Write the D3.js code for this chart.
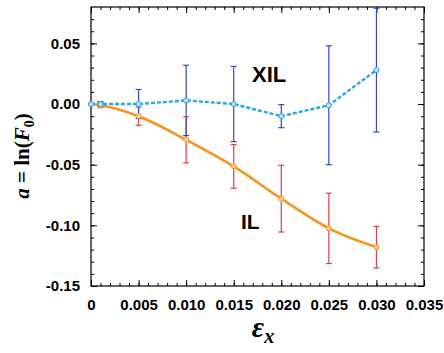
<!DOCTYPE html>
<html>
<head>
<meta charset="utf-8">
<script src="https://cdn.jsdelivr.net/npm/d3@7"></script>
<style>
  html, body { margin: 0; padding: 0; background: #fff; }
  svg { display: block; }
</style>
</head>
<body>
<div id="vis"></div>
<script>
// data
const strain = [0, 0.001, 0.005, 0.010, 0.015, 0.020, 0.025, 0.030];
const xil    = [0, 0, 0, 0.003, 0, -0.010, -0.001, 0.028];
const xilErr = [0, 0.002, 0.012, 0.029, 0.031, 0.0095, 0.049, 0.051];
const il     = [0, -0.001, -0.010, -0.0295, -0.0514, -0.078, -0.1025, -0.118];
const ilErr  = [0, 0.002, 0.0075, 0.019, 0.018, 0.0275, 0.029, 0.017];
const xTicks = [0, 0.005, 0.010, 0.015, 0.020, 0.025, 0.030, 0.035];
const yTicks = [-0.15, -0.10, -0.05, 0.00, 0.05];

const W = 444, H = 353;
const L = 91, R = 424, T = 7, B = 286;

const x = d3.scaleLinear().domain([0, 0.035]).range([L, R]);
const y = d3.scaleLinear().domain([-0.15, 0.08]).range([B, T]);

const svg = d3.select("#vis").append("svg")
  .attr("width", W).attr("height", H);

const labelFont = "Liberation Sans, Arial, sans-serif";

// minor ticks
const xMinor = d3.range(0, 36).map(i => i * 0.001);
const yMinor = d3.range(-15, 8).map(i => i * 0.01);

function styleAxis(g) {
  g.select(".domain").remove();
  g.selectAll("line").attr("stroke", "#000").attr("stroke-width", 1);
  g.selectAll("text")
    .attr("font-family", labelFont)
    .attr("font-weight", "bold")
    .attr("font-size", 15)
    .attr("fill", "#000");
}

// bottom
svg.append("g").attr("transform", `translate(0,${B})`)
  .call(d3.axisBottom(x).tickValues(xMinor).tickSize(-3).tickFormat(""))
  .call(styleAxis);
svg.append("g").attr("transform", `translate(0,${B})`)
  .call(d3.axisBottom(x).tickValues(xTicks).tickSize(-6).tickPadding(13)
    .tickFormat(d => d === 0 ? "0" : d3.format(".3f")(d)))
  .call(styleAxis);
// top
svg.append("g").attr("transform", `translate(0,${T})`)
  .call(d3.axisTop(x).tickValues(xMinor).tickSize(-3).tickFormat(""))
  .call(styleAxis);
svg.append("g").attr("transform", `translate(0,${T})`)
  .call(d3.axisTop(x).tickValues(xTicks).tickSize(-6).tickFormat(""))
  .call(styleAxis);
// left
svg.append("g").attr("transform", `translate(${L},0)`)
  .call(d3.axisLeft(y).tickValues(yMinor).tickSize(-3).tickFormat(""))
  .call(styleAxis);
svg.append("g").attr("transform", `translate(${L},0)`)
  .call(d3.axisLeft(y).tickValues(yTicks).tickSize(-6).tickPadding(11)
    .tickFormat(d => d3.format(".2f")(d).replace("−", "-")))
  .call(styleAxis);
// right
svg.append("g").attr("transform", `translate(${R},0)`)
  .call(d3.axisRight(y).tickValues(yMinor).tickSize(-3).tickFormat(""))
  .call(styleAxis);
svg.append("g").attr("transform", `translate(${R},0)`)
  .call(d3.axisRight(y).tickValues(yTicks).tickSize(-6).tickFormat(""))
  .call(styleAxis);

// frame
svg.append("rect")
  .attr("x", L).attr("y", T).attr("width", R - L).attr("height", B - T)
  .attr("fill", "none").attr("stroke", "#000").attr("stroke-width", 1.2);

const plot = svg.append("g");

function errorBars(vals, errs, color) {
  const g = plot.append("g").attr("stroke", color).attr("stroke-width", 1.2).attr("fill", "none");
  strain.forEach((s, i) => {
    if (!errs[i]) return;
    const lo = y(Math.max(vals[i] - errs[i], -0.15));
    const hi = y(Math.min(vals[i] + errs[i], 0.08));
    g.append("line").attr("x1", x(s)).attr("x2", x(s)).attr("y1", lo).attr("y2", hi);
    g.append("line").attr("x1", x(s) - 3).attr("x2", x(s) + 3).attr("y1", lo).attr("y2", lo);
    g.append("line").attr("x1", x(s) - 3).attr("x2", x(s) + 3).attr("y1", hi).attr("y2", hi);
  });
}

errorBars(il, ilErr, "#dc4148");
errorBars(xil, xilErr, "#3548c0");

// IL line
plot.append("path")
  .datum(strain.map((s, i) => [s, il[i]]))
  .attr("fill", "none")
  .attr("stroke", "#f7931e")
  .attr("stroke-width", 2.6)
  .attr("d", d3.line().x(d => x(d[0])).y(d => y(d[1])).curve(d3.curveMonotoneX));

// XIL line
plot.append("path")
  .datum(strain.map((s, i) => [s, xil[i]]))
  .attr("fill", "none")
  .attr("stroke", "#2ba7e0")
  .attr("stroke-width", 2.4)
  .attr("stroke-dasharray", "4,2")
  .attr("d", d3.line().x(d => x(d[0])).y(d => y(d[1])));

plot.append("g").selectAll("circle")
  .data(strain.map((s, i) => [s, il[i]]))
  .join("circle")
  .attr("cx", d => x(d[0])).attr("cy", d => y(d[1])).attr("r", 2.5)
  .attr("fill", "#fbd3a8").attr("stroke", "#f7931e").attr("stroke-width", 1);

plot.append("g").selectAll("circle")
  .data(strain.map((s, i) => [s, xil[i]]))
  .join("circle")
  .attr("cx", d => x(d[0])).attr("cy", d => y(d[1])).attr("r", 2.5)
  .attr("fill", "#bfe5f6").attr("stroke", "#2ba7e0").attr("stroke-width", 1);

// series labels
svg.append("text").attr("x", 252).attr("y", 82)
  .attr("font-family", labelFont).attr("font-weight", "bold").attr("font-size", 22)
  .text("XIL");
svg.append("text").attr("x", 241).attr("y", 229)
  .attr("font-family", labelFont).attr("font-weight", "bold").attr("font-size", 21)
  .text("IL");

// axis titles
const serif = "Liberation Serif, Times New Roman, serif";
const yl = svg.append("text")
  .attr("transform", "translate(29,156) rotate(-90)")
  .attr("text-anchor", "middle")
  .attr("font-family", serif).attr("font-weight", "bold").attr("font-size", 21);
yl.append("tspan").attr("font-style", "italic").text("a");
yl.append("tspan").text(" = ln(");
yl.append("tspan").attr("font-style", "italic").text("F");
yl.append("tspan").attr("font-size", 14).attr("dy", 5).text("0");
yl.append("tspan").attr("dy", -5).text(")");

const xl = svg.append("text")
  .attr("x", 263).attr("y", 337)
  .attr("text-anchor", "middle")
  .attr("font-family", serif).attr("font-weight", "bold").attr("font-style", "italic")
  .attr("font-size", 30);
xl.append("tspan").text("ε");
xl.append("tspan").attr("font-size", 20).attr("dy", 6).text("x");
</script>
</body>
</html>
